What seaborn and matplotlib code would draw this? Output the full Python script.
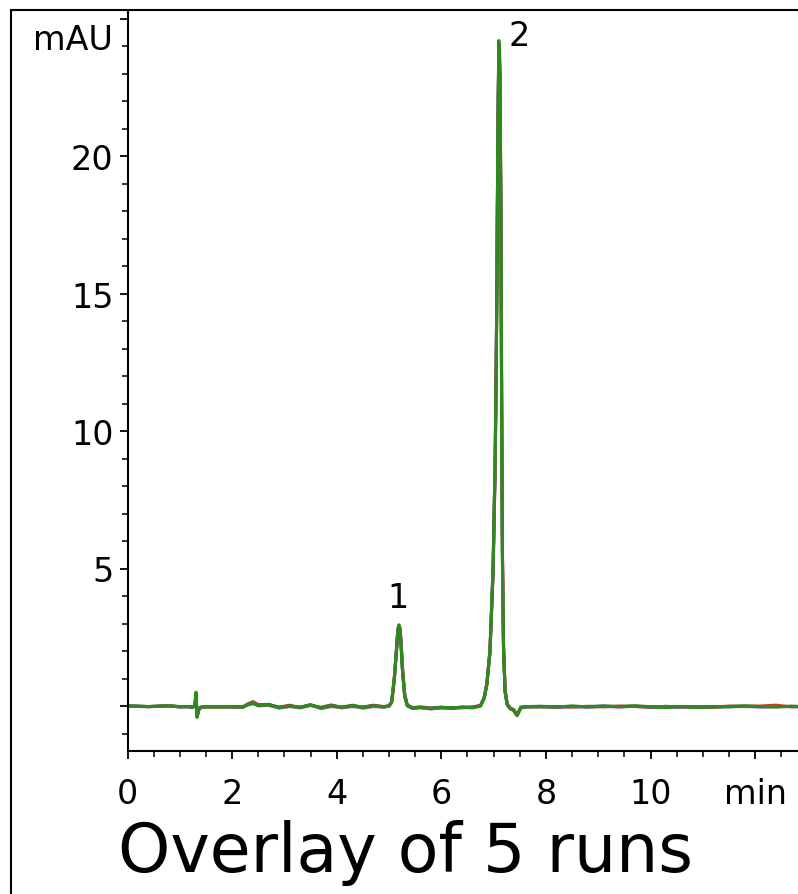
import matplotlib
matplotlib.use("Agg")
import matplotlib.pyplot as plt
from matplotlib.ticker import MultipleLocator, FixedLocator
from matplotlib.lines import Line2D
import seaborn as sns
import pandas as pd

# ---- data ----
time_min = [0.0, 0.4, 0.8, 1.0, 1.15, 1.25, 1.29, 1.31, 1.33, 1.36,
            1.4, 1.5, 1.8, 2.1, 2.2, 2.3, 2.4, 2.5, 2.7, 2.9,
            3.1, 3.3, 3.5, 3.7, 3.9, 4.1, 4.3, 4.5, 4.7, 4.9,
            5.0, 5.05, 5.1, 5.14, 5.17, 5.19, 5.21, 5.23, 5.26, 5.3,
            5.35, 5.45, 5.6, 5.8, 6.0, 6.2, 6.4, 6.6, 6.75, 6.82,
            6.87, 6.93, 6.99, 7.03, 7.05, 7.065, 7.08, 7.1, 7.12, 7.14,
            7.155, 7.17, 7.19, 7.22, 7.26, 7.32, 7.38, 7.45, 7.52, 7.65,
            7.9, 8.2, 8.5, 8.8, 9.1, 9.4, 9.7, 10.0, 10.3, 10.6,
            10.9, 11.2, 11.5, 11.8, 12.1, 12.4, 12.7, 12.9]

run_red = [0.00, -0.03, 0.01, -0.02, -0.03, -0.04, 0.03, 0.45, -0.38, -0.12,
           -0.04, -0.02, -0.04, -0.02, -0.03, 0.08, 0.16, 0.05, 0.02, -0.04,
           0.03, -0.06, 0.02, -0.05, 0.04, -0.07, 0.00, -0.04, 0.03, -0.02,
           0.01, 0.12, 0.90, 1.90, 2.70, 2.90, 2.85, 2.40, 1.40, 0.45,
           0.04, -0.06, -0.03, -0.07, -0.08, -0.05, -0.07, -0.03, 0.02, 0.28,
           0.75, 1.90, 4.80, 8.60, 12.0, 15.5, 20.0, 23.9, 23.2, 18.5,
           11.0, 5.6, 2.3, 0.6, 0.08, -0.08, -0.12, -0.32, -0.04, -0.02,
           -0.03, -0.02, -0.04, -0.01, -0.03, 0.00, -0.02, -0.05, -0.01, -0.04,
           -0.03, -0.05, 0.00, -0.02, 0.00, 0.03, -0.03, -0.01]

run_blue = [0.00, -0.02, 0.00, -0.03, -0.02, -0.05, 0.02, 0.48, -0.40, -0.14,
            -0.05, -0.03, -0.02, -0.04, -0.04, 0.04, 0.09, 0.03, 0.06, -0.05,
            -0.02, -0.04, 0.03, -0.06, 0.02, -0.04, -0.02, -0.05, 0.01, -0.04,
            0.00, 0.14, 0.95, 1.95, 2.75, 2.92, 2.78, 2.25, 1.25, 0.38,
            0.01, -0.07, -0.06, -0.08, -0.04, -0.09, -0.05, -0.05, 0.01, 0.29,
            0.78, 1.95, 4.90, 8.80, 12.3, 15.8, 20.3, 24.0, 23.0, 17.8,
            10.5, 5.3, 2.1, 0.55, 0.06, -0.09, -0.14, -0.33, -0.06, -0.02,
            -0.01, -0.03, -0.02, -0.02, 0.00, -0.03, -0.01, -0.02, -0.04, -0.03,
            -0.04, -0.02, -0.03, -0.01, -0.03, -0.02, -0.02, -0.03]

run_magenta = [0.00, -0.02, 0.00, -0.03, -0.02, -0.05, 0.02, 0.47, -0.39, -0.15,
               -0.05, -0.03, -0.03, -0.03, -0.04, 0.05, 0.11, 0.00, 0.03, -0.08,
               -0.01, -0.07, 0.03, -0.09, -0.02, -0.06, 0.01, -0.08, -0.02, -0.04,
               0.00, 0.13, 0.97, 1.98, 2.78, 2.93, 2.80, 2.30, 1.30, 0.40,
               0.00, -0.09, -0.06, -0.11, -0.06, -0.07, -0.05, -0.07, 0.00, 0.31,
               0.82, 2.05, 5.10, 9.10, 12.6, 16.2, 20.8, 24.1, 22.8, 17.5,
               10.3, 5.2, 2.1, 0.52, 0.05, -0.10, -0.16, -0.34, -0.07, -0.04,
               -0.03, -0.05, -0.02, -0.04, -0.02, -0.03, -0.01, -0.04, -0.03, -0.03,
               -0.05, -0.04, -0.02, -0.02, -0.03, -0.02, -0.02, -0.03]

run_dark = [0.00, -0.02, 0.01, -0.03, -0.02, -0.04, 0.02, 0.49, -0.41, -0.15,
            -0.05, -0.03, -0.03, -0.03, -0.05, 0.06, 0.12, 0.02, 0.05, -0.05,
            0.01, -0.05, 0.04, -0.07, 0.01, -0.05, 0.03, -0.05, 0.01, -0.03,
            0.00, 0.14, 0.98, 1.98, 2.78, 2.94, 2.78, 2.22, 1.22, 0.36,
            0.02, -0.07, -0.04, -0.09, -0.05, -0.07, -0.04, -0.05, 0.01, 0.30,
            0.79, 1.98, 4.95, 8.90, 12.4, 15.9, 20.4, 24.1, 22.7, 17.2,
            10.2, 5.1, 2.0, 0.5, 0.05, -0.10, -0.15, -0.35, -0.05, -0.03,
            -0.02, -0.03, -0.01, -0.03, -0.01, -0.02, 0.00, -0.03, -0.04, -0.02,
            -0.04, -0.03, -0.02, 0.00, -0.02, -0.03, -0.01, -0.02]

run_green = [0.00, -0.02, 0.00, -0.03, -0.02, -0.05, 0.02, 0.50, -0.40, -0.15,
             -0.05, -0.03, -0.03, -0.03, -0.05, 0.05, 0.10, 0.02, 0.04, -0.06,
             0.00, -0.05, 0.05, -0.08, 0.00, -0.05, 0.02, -0.06, 0.00, -0.03,
             0.00, 0.15, 1.00, 2.00, 2.80, 2.95, 2.75, 2.20, 1.20, 0.35,
             0.02, -0.08, -0.05, -0.10, -0.05, -0.08, -0.04, -0.06, 0.00, 0.30,
             0.80, 2.00, 5.00, 9.00, 12.5, 16.0, 20.5, 24.2, 23.5, 18.0,
             10.0, 5.0, 2.0, 0.5, 0.05, -0.10, -0.15, -0.35, -0.05, -0.03,
             -0.02, -0.04, 0.00, -0.03, -0.01, -0.02, 0.00, -0.03, -0.05, -0.02,
             -0.05, -0.03, -0.02, 0.00, -0.02, -0.03, -0.01, -0.02]

run_names = ["run 1", "run 2", "run 3", "run 4", "run 5"]
run_colors = ["#e8302a", "#2b3f9e", "#c24fc2", "#6b6b30", "#2e8a1e"]
x_tick_values = [0, 2, 4, 6, 8, 10, 12]
x_tick_labels = ["0", "2", "4", "6", "8", "10", "min"]
y_tick_values = [0, 5, 10, 15, 20, 25]
y_tick_labels = ["", "5", "10", "15", "20", ""]
peak_labels = ["1", "2"]
peak_label_x = [5.17, 7.49]
peak_label_y = [3.96, 24.4]
title_text = "Overlay of 5 runs"
y_unit = "mAU"

# ---- build long table ----
series = [run_red, run_blue, run_magenta, run_dark, run_green]
frames = []
for name, vals in zip(run_names, series):
    frames.append(pd.DataFrame({"time": time_min, "signal": vals, "run": name}))
df = pd.concat(frames, ignore_index=True)

sns.set_style("ticks")
plt.rcParams["font.family"] = ["DejaVu Sans"]
plt.rcParams["text.color"] = "black"
plt.rcParams["xtick.color"] = "black"
plt.rcParams["ytick.color"] = "black"

W, H = 798, 895
fig = plt.figure(figsize=(W / 100, H / 100), dpi=100)
ax_left = 127.5 / W
ax_bottom = (H - 752) / H
ax_top = 1 - 12 / H
ax = fig.add_axes([ax_left, ax_bottom, 1.0 - ax_left, ax_top - ax_bottom])

sns.lineplot(data=df, x="time", y="signal", hue="run", hue_order=run_names,
             palette=dict(zip(run_names, run_colors)), sort=False,
             estimator=None, linewidth=2.2, legend=False, ax=ax)

ax.set_xlim(0, (W - 127.5) / 52.3)
ax.set_ylim((707 - 752) / 27.5, (707 - 12) / 27.5)

ax.xaxis.set_major_locator(FixedLocator(x_tick_values))
ax.set_xticklabels(x_tick_labels)
ax.xaxis.set_minor_locator(MultipleLocator(0.5))
ax.yaxis.set_major_locator(FixedLocator(y_tick_values))
ax.set_yticklabels(y_tick_labels)
ax.yaxis.set_minor_locator(MultipleLocator(1))

ax.tick_params(axis="both", which="major", direction="out", length=6,
               width=1.3, labelsize=24, color="black", labelcolor="black")
ax.tick_params(axis="both", which="minor", direction="out", length=4,
               width=1.1, color="black")
ax.tick_params(axis="x", which="major", pad=13)
ax.tick_params(axis="y", which="major", pad=4)

for s in ["top", "right"]:
    ax.spines[s].set_visible(False)
for s in ["left", "bottom"]:
    ax.spines[s].set_linewidth(1.5)
    ax.spines[s].set_color("black")

ax.set_xlabel("")
ax.set_ylabel("")

for lab, lx, ly in zip(peak_labels, peak_label_x, peak_label_y):
    ax.text(lx, ly, lab, fontsize=24, ha="center", va="center", color="black")

fig.text(113 / W, 1 - 41 / H, y_unit, fontsize=24, ha="right", va="center",
         color="black")
fig.text(406 / W, 23 / H, title_text, fontsize=48, ha="center", va="baseline",
         color="black")

# outer frame (top and left edges visible)
fig.add_artist(Line2D([11 / W, 1.0], [1 - 11 / H, 1 - 11 / H],
                      transform=fig.transFigure, color="black", lw=1.5))
fig.add_artist(Line2D([11 / W, 11 / W], [0, 1 - 11 / H],
                      transform=fig.transFigure, color="black", lw=1.5))

fig.savefig("out.png", dpi=100)
